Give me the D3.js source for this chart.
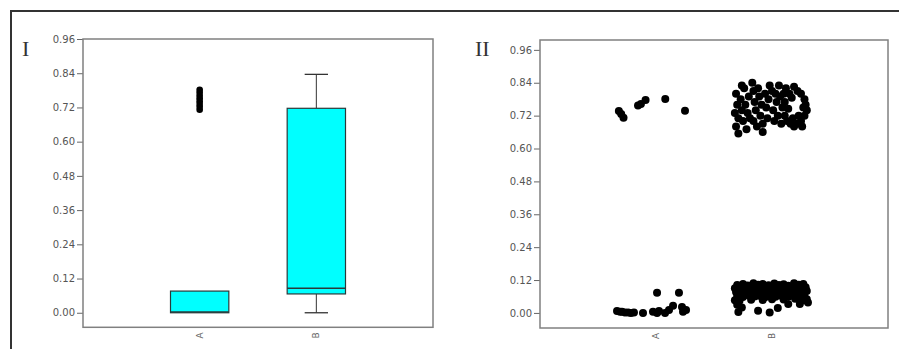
<!DOCTYPE html>
<html>
<head>
<meta charset="utf-8">
<script src="https://cdn.jsdelivr.net/npm/d3@7"></script>
<style>
  html, body { margin: 0; padding: 0; background: #fff; }
  svg { display: block; }
</style>
</head>
<body>
<div id="chart"></div>
<script>
// categories + tick labels
const categories = ['A', 'B'];
const yTicks = [0, 0.12, 0.24, 0.36, 0.48, 0.60, 0.72, 0.84, 0.96];

// panel I : box summaries
const boxLow = [0.0, 0.0];        // lower whisker end
const boxQ1 = [0.0, 0.066];
const boxMedian = [0.003, 0.086];
const boxQ3 = [0.076, 0.717];
const boxHigh = [0.076, 0.836];   // upper whisker end
const outliersA = [0.712, 0.722, 0.732, 0.742, 0.752, 0.762, 0.772, 0.782];

// panel II : jittered points [offset in category steps, value]
const pointsA = [
  [-0.32, 0.737], [-0.30, 0.726], [-0.28, 0.712], [-0.155, 0.757], [-0.13, 0.762],
  [-0.09, 0.777], [0.08, 0.781], [0.25, 0.738],
  [-0.336, 0.007], [-0.31, 0.004], [-0.293, 0.004], [-0.267, 0.002], [-0.241, 0.002],
  [-0.216, 0.0], [-0.19, 0.002], [-0.112, 0.0], [-0.026, 0.004], [0.009, 0.0],
  [0.026, 0.007], [0.078, 0.0], [0.112, 0.011], [0.147, 0.026], [0.233, 0.004],
  [0.259, 0.011], [0.224, 0.022], [0.009, 0.074], [0.198, 0.074]
];
const pointsB = [
  // upper cluster
  [-0.31, 0.80], [-0.30, 0.76], [-0.32, 0.73], [-0.29, 0.71], [-0.31, 0.68], [-0.29, 0.655],
  [-0.27, 0.78], [-0.26, 0.74], [-0.25, 0.70], [-0.24, 0.82], [-0.22, 0.67], [-0.23, 0.76],
  [-0.21, 0.73], [-0.20, 0.79], [-0.19, 0.71], [-0.26, 0.83],
  [-0.17, 0.84], [-0.16, 0.81], [-0.15, 0.77], [-0.14, 0.74], [-0.16, 0.70], [-0.12, 0.82],
  [-0.11, 0.79], [-0.10, 0.72], [-0.09, 0.76], [-0.08, 0.69], [-0.08, 0.66], [-0.06, 0.80],
  [-0.05, 0.75], [-0.04, 0.71], [-0.13, 0.68], [-0.02, 0.83], [-0.03, 0.78],
  [0.00, 0.81], [0.01, 0.74], [0.02, 0.70], [0.04, 0.77], [0.05, 0.72], [0.06, 0.83],
  [0.07, 0.79], [0.08, 0.69], [0.09, 0.75], [0.03, 0.80],
  [0.12, 0.82], [0.15, 0.80], [0.19, 0.825], [0.22, 0.81], [0.25, 0.80], [0.28, 0.78],
  [0.17, 0.785], [0.11, 0.72], [0.13, 0.70], [0.16, 0.69], [0.19, 0.68], [0.22, 0.69],
  [0.25, 0.70], [0.28, 0.72], [0.30, 0.74], [0.29, 0.76], [0.27, 0.75], [0.14, 0.745],
  [0.18, 0.71], [0.23, 0.72], [0.26, 0.68], [0.11, 0.77], [0.10, 0.80],
  // lower band
  [-0.30, 0.102], [-0.25, 0.106], [-0.21, 0.100], [-0.16, 0.108], [-0.12, 0.103], [-0.08, 0.106],
  [-0.03, 0.101], [0.02, 0.107], [0.06, 0.102], [0.10, 0.105], [0.14, 0.099], [0.19, 0.108],
  [0.23, 0.103], [0.27, 0.106],
  [-0.32, 0.090], [-0.27, 0.093], [-0.23, 0.088], [-0.19, 0.094], [-0.14, 0.089], [-0.10, 0.092],
  [-0.05, 0.087], [-0.01, 0.093], [0.04, 0.089], [0.08, 0.094], [0.12, 0.090], [0.16, 0.086],
  [0.21, 0.092], [0.25, 0.088], [0.29, 0.094],
  [-0.31, 0.076], [-0.26, 0.079], [-0.22, 0.073], [-0.17, 0.078], [-0.13, 0.075], [-0.09, 0.080],
  [-0.04, 0.074], [0.00, 0.078], [0.05, 0.072], [0.09, 0.077], [0.13, 0.074], [0.17, 0.079],
  [0.22, 0.073], [0.26, 0.076], [0.30, 0.080],
  [-0.30, 0.062], [-0.25, 0.058], [-0.20, 0.064], [-0.15, 0.060], [-0.11, 0.063], [-0.06, 0.057],
  [-0.02, 0.062], [0.03, 0.059], [0.07, 0.064], [0.11, 0.058], [0.15, 0.061], [0.19, 0.065],
  [0.24, 0.057], [0.28, 0.060],
  [-0.32, 0.046], [-0.28, 0.044], [-0.18, 0.048], [-0.08, 0.047], [0.00, 0.050], [0.10, 0.049],
  [0.20, 0.052], [0.27, 0.046], [0.30, 0.050],
  // sparse low points
  [-0.30, 0.030], [-0.26, 0.020], [-0.29, 0.003], [-0.12, 0.008], [-0.02, 0.002],
  [0.05, 0.018], [0.14, 0.033], [0.24, 0.033], [0.31, 0.038]
];

const W = 899, H = 349;
const svg = d3.select('#chart').append('svg')
  .attr('width', W)
  .attr('height', H);

svg.append('rect').attr('width', W).attr('height', H).attr('fill', '#fff');

// outer frame (top and left edges only)
svg.append('path')
  .attr('d', `M11,${H} L11,11 L${W},11`)
  .attr('fill', 'none')
  .attr('stroke', '#333')
  .attr('stroke-width', 2);

function makePanel(p) {
  const x = d3.scalePoint().domain(categories).range([p.left, p.right]).padding(1);
  const y = d3.scaleLinear().domain(p.domain).range([p.bottom, p.top]);
  const g = svg.append('g');

  // y axis
  g.append('g')
    .attr('transform', `translate(${p.left},0)`)
    .call(d3.axisLeft(y).tickValues(yTicks).tickFormat(d3.format('.2f')).tickSize(6).tickSizeOuter(0).tickPadding(2))
    .call(a => a.select('.domain').remove())
    .call(a => a.selectAll('line').attr('stroke', '#666'))
    .call(a => a.selectAll('text')
      .attr('fill', '#555')
      .style('font-family', 'DejaVu Sans, sans-serif')
      .style('font-size', '10px'));

  // x labels, rotated
  g.selectAll('.xlab')
    .data(categories)
    .enter()
    .append('text')
    .attr('class', 'xlab')
    .attr('transform', d => `translate(${x(d) + 3},${p.bottom + 8}) rotate(-90)`)
    .attr('text-anchor', 'middle')
    .attr('fill', '#666')
    .style('font-family', 'DejaVu Sans, sans-serif')
    .style('font-size', '9px')
    .text(d => d);

  // panel label
  g.append('text')
    .attr('x', p.labelX)
    .attr('y', 56)
    .attr('fill', '#333')
    .style('font-family', 'Liberation Serif, serif')
    .style('font-size', '22px')
    .text(p.label);

  return { g, x, y };
}

// ---- panel I: box plot
const p1 = makePanel({ left: 83, right: 433, top: 39, bottom: 327.3, domain: [-0.051, 0.96], label: 'I', labelX: 22 });
const step1 = p1.x.step();
const boxW = step1 * 0.5, capW = step1 * 0.2;

categories.forEach((c, i) => {
  const cx = p1.x(c);
  if (boxHigh[i] > boxQ3[i]) {
    p1.g.append('line').attr('x1', cx).attr('x2', cx).attr('y1', p1.y(boxQ3[i])).attr('y2', p1.y(boxHigh[i])).attr('stroke', '#333');
    p1.g.append('line').attr('x1', cx - capW / 2).attr('x2', cx + capW / 2).attr('y1', p1.y(boxHigh[i])).attr('y2', p1.y(boxHigh[i])).attr('stroke', '#333').attr('stroke-width', 1.3);
  }
  if (boxLow[i] < boxQ1[i]) {
    p1.g.append('line').attr('x1', cx).attr('x2', cx).attr('y1', p1.y(boxQ1[i])).attr('y2', p1.y(boxLow[i])).attr('stroke', '#333');
    p1.g.append('line').attr('x1', cx - capW / 2).attr('x2', cx + capW / 2).attr('y1', p1.y(boxLow[i])).attr('y2', p1.y(boxLow[i])).attr('stroke', '#333').attr('stroke-width', 1.3);
  }
  p1.g.append('rect')
    .attr('x', cx - boxW / 2)
    .attr('y', p1.y(boxQ3[i]))
    .attr('width', boxW)
    .attr('height', p1.y(boxQ1[i]) - p1.y(boxQ3[i]))
    .attr('fill', '#00ffff')
    .attr('stroke', '#2a3a3a')
    .attr('stroke-width', 1.2);
  p1.g.append('line')
    .attr('x1', cx - boxW / 2).attr('x2', cx + boxW / 2)
    .attr('y1', p1.y(boxMedian[i])).attr('y2', p1.y(boxMedian[i]))
    .attr('stroke', '#2a3a3a').attr('stroke-width', 1.5);
});

p1.g.selectAll('.outlier')
  .data(outliersA)
  .enter()
  .append('circle')
  .attr('class', 'outlier')
  .attr('cx', p1.x('A'))
  .attr('cy', d => p1.y(d))
  .attr('r', 3.3)
  .attr('fill', '#000');

p1.g.append('rect')
  .attr('x', 83).attr('y', 39).attr('width', 433 - 83).attr('height', 327.3 - 39)
  .attr('fill', 'none').attr('stroke', '#808080').attr('stroke-width', 1.5);

// ---- panel II: jittered dots
const p2 = makePanel({ left: 540, right: 888, top: 40, bottom: 328, domain: [-0.055, 0.996], label: 'II', labelX: 475 });
const step2 = p2.x.step();

[['A', pointsA], ['B', pointsB]].forEach(([c, pts]) => {
  p2.g.selectAll('.dot' + c)
    .data(pts)
    .enter()
    .append('circle')
    .attr('class', 'dot' + c)
    .attr('cx', d => p2.x(c) + d[0] * step2)
    .attr('cy', d => p2.y(d[1]))
    .attr('r', 4)
    .attr('fill', '#000');
});

p2.g.append('rect')
  .attr('x', 540).attr('y', 40).attr('width', 888 - 540).attr('height', 328 - 40)
  .attr('fill', 'none').attr('stroke', '#808080').attr('stroke-width', 1.5);
</script>
</body>
</html>
